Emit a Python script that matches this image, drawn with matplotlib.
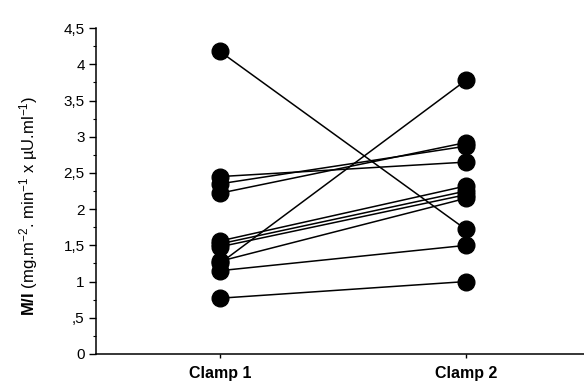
import numpy as np
import matplotlib
matplotlib.use("Agg")
import matplotlib.pyplot as plt
from matplotlib.ticker import MultipleLocator, FuncFormatter

# ============================================================
# 数据：每位受试者两次 clamp 的 M/I 值
# ============================================================
CONDITIONS = ["Clamp 1", "Clamp 2"]
CLAMP1 = [4.18, 2.45, 2.35, 2.22, 1.56, 1.52, 1.48, 1.28, 1.25, 1.15, 0.77]
CLAMP2 = [1.72, 2.65, 2.87, 2.92, 2.32, 2.25, 2.20, 2.15, 3.78, 1.50, 1.00]
Y_TICKS = [0, 0.5, 1, 1.5, 2, 2.5, 3, 3.5, 4, 4.5]

plt.rcParams.update({
    "font.family": ["Liberation Sans", "DejaVu Sans"],
    "mathtext.fontset": "custom",
    "mathtext.rm": "Liberation Sans",
    "mathtext.bf": "Liberation Sans:bold",
    "mathtext.it": "Liberation Sans:italic",
})

fig = plt.figure(figsize=(5.84, 3.86), dpi=100)
ax = fig.add_axes([0.164, 0.083, 0.836, 0.844])

xs = [1, 2]
for a, b in zip(CLAMP1, CLAMP2):
    ax.plot(xs, [a, b], color="black", linewidth=1.1, marker="o",
            markersize=12, markerfacecolor="black", markeredgecolor="black",
            solid_capstyle="round", clip_on=False)

ax.set_xlim(0.496, 2.48)
ax.set_ylim(0, 4.5)
ax.set_xticks(xs)
ax.set_xticklabels(CONDITIONS, fontweight="bold", fontsize=11.5)
ax.set_yticks(Y_TICKS)


def comma_fmt(v, pos):
    if v == 0:
        return "0"
    s = f"{v:g}".replace(".", ",")
    if s.startswith("0,"):
        s = s[1:]
    return s


ax.yaxis.set_major_formatter(FuncFormatter(comma_fmt))
ax.yaxis.set_minor_locator(MultipleLocator(0.25))
ax.tick_params(axis="y", which="major", length=5, width=1, labelsize=11, pad=3)
ax.tick_params(axis="y", which="minor", length=2.5, width=0.8)
ax.tick_params(axis="x", which="major", length=3, width=1, pad=6)

for s in ["top", "right"]:
    ax.spines[s].set_visible(False)
for s in ["left", "bottom"]:
    ax.spines[s].set_linewidth(1.1)

ax.set_ylabel(r"$\bf{M/I}$ (mg.m$^{-2}$. min$^{-1}$ x µU.ml$^{-1}$)",
              fontsize=12)
ax.yaxis.set_label_coords(-0.115, 0.455)

fig.savefig("out.png", dpi=100)
